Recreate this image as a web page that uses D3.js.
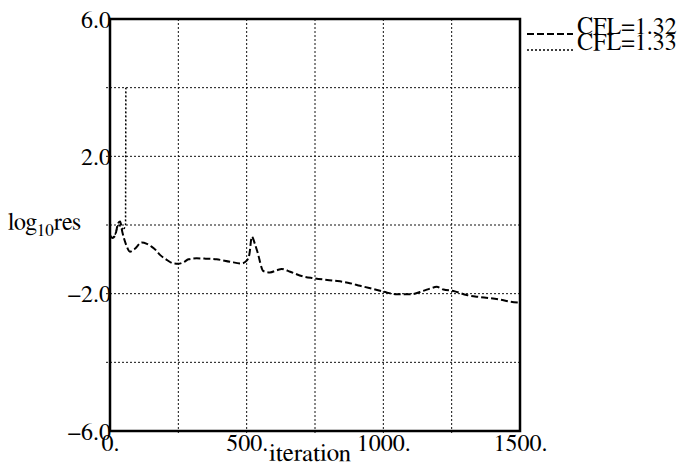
<html><head><meta charset="utf-8"><script src="https://cdn.jsdelivr.net/npm/d3@7"></script></head>
<body style="margin:0">
<svg id="s" width="686" height="466" style="font-family: 'FreeSerif'"></svg>
<script>
// Residual history, CFL = 1.32 (converging run): [iteration, log10 res]
const cfl132 = [
  [0, -0.30], [8, -0.38], [18, -0.32], [30, 0.05], [37, 0.10], [45, -0.20],
  [60, -0.60], [73, -0.78], [90, -0.70], [116, -0.51], [135, -0.55],
  [152, -0.63], [170, -0.75], [183, -0.87], [205, -1.00], [232, -1.12],
  [250, -1.13], [270, -1.08], [287, -1.00], [317, -0.97], [350, -0.98],
  [390, -1.00], [439, -1.07], [482, -1.12], [500, -1.04], [510, -0.85],
  [519, -0.34], [530, -0.55], [540, -0.80], [561, -1.34], [585, -1.38],
  [610, -1.32], [628, -1.28], [659, -1.36], [707, -1.50], [744, -1.55],
  [817, -1.62], [870, -1.68], [915, -1.77], [960, -1.86], [1000, -1.94],
  [1049, -2.02], [1098, -2.02], [1146, -1.92], [1175, -1.84], [1195, -1.80],
  [1220, -1.88], [1256, -1.92], [1305, -2.04], [1354, -2.10], [1427, -2.17],
  [1463, -2.23], [1500, -2.26]
];

// Residual history, CFL = 1.33 (blows up early)
const cfl133 = [
  [0, -0.30], [8, -0.38], [18, -0.30], [30, 0.02], [40, -0.05], [50, -0.15],
  [57, 0.00], [58, 4.0]
];

const xTickValues = [0, 500, 1000, 1500];
const xTickLabels = ["0.", "500.", "1000.", "1500."];
const xGridValues = [250, 500, 750, 1000, 1250];
const yTickValues = [6, 2, -2, -6];
const yTickLabels = ["6.0", "2.0", "\u22122.0", "\u22126.0"];
const yGridValues = [4, 2, 0, -2, -4];
const seriesNames = ["CFL=1.32", "CFL=1.33"];

const FONT = '"FreeSerif"';
const svg = d3.select("#s");
const margin = { left: 110, top: 19, right: 166, bottom: 35 };
const W = 686, H = 466;
const x = d3.scaleLinear().domain([0, 1500]).range([margin.left, W - margin.right]);
const y = d3.scaleLinear().domain([-6, 6]).range([H - margin.bottom, margin.top]);

// serif face on every text node
function serif(sel) {
  return sel.attr("font-family", "FreeSerif").style("font-family", FONT);
}

// grid
const grid = svg.append("g").attr("stroke", "#111").attr("stroke-width", 1)
  .attr("stroke-dasharray", "2,2");
grid.selectAll("line.vx").data(xGridValues).join("line")
  .attr("x1", d => x(d)).attr("x2", d => x(d))
  .attr("y1", y(6)).attr("y2", y(-6) + 4);
grid.selectAll("line.hy").data(yGridValues).join("line")
  .attr("x1", x(0) - 4).attr("x2", x(1500))
  .attr("y1", d => y(d)).attr("y2", d => y(d));

// series
const line = d3.line().x(d => x(d[0])).y(d => y(d[1])).curve(d3.curveMonotoneX);
svg.append("path").datum(cfl133)
  .attr("fill", "none").attr("stroke", "#000").attr("stroke-width", 1.5)
  .attr("stroke-dasharray", "2,2")
  .attr("d", d3.line().x(d => x(d[0])).y(d => y(d[1])));
svg.append("path").datum(cfl132)
  .attr("fill", "none").attr("stroke", "#000").attr("stroke-width", 2)
  .attr("stroke-dasharray", "7,3")
  .attr("d", line);

// frame
svg.append("rect")
  .attr("x", x(0)).attr("y", y(6))
  .attr("width", x(1500) - x(0)).attr("height", y(-6) - y(6))
  .attr("fill", "none").attr("stroke", "#000").attr("stroke-width", 2.5);

// axis tick labels
const xAxis = d3.axisBottom(x).tickValues(xTickValues)
  .tickFormat((d, i) => xTickLabels[i]).tickSize(0).tickPadding(0);
const gx = svg.append("g").attr("transform", `translate(0,${y(-6)})`).call(xAxis);
gx.select(".domain").remove();
serif(gx);
serif(gx.selectAll("text")).attr("font-size", 24).attr("fill", "#000")
  .attr("dy", null).attr("y", 20);

const yAxis = d3.axisLeft(y).tickValues(yTickValues)
  .tickFormat((d, i) => yTickLabels[i]).tickSize(0).tickPadding(0);
const gy = svg.append("g").attr("transform", `translate(${x(0) + 1},0)`).call(yAxis);
gy.select(".domain").remove();
serif(gy);
serif(gy.selectAll("text")).attr("font-size", 24).attr("fill", "#000")
  .attr("dy", "0.34em").attr("x", 0);

// axis titles
const yl = serif(svg.append("text")).attr("x", 8).attr("y", 230).attr("font-size", 24);
yl.append("tspan").text("log");
yl.append("tspan").attr("font-size", 17).attr("dy", 6).text("10");
yl.append("tspan").attr("dy", -6).text("res");

serif(svg.append("text")).attr("x", 310).attr("y", 461).attr("text-anchor", "middle")
  .attr("font-size", 25).text("iteration");

// legend
const legendRows = [
  { name: seriesNames[0], dash: "7,3", width: 2, y: 34 },
  { name: seriesNames[1], dash: "2,2", width: 1.5, y: 50 }
];
const legend = svg.append("g");
legend.selectAll("line").data(legendRows).join("line")
  .attr("x1", 527).attr("x2", 573)
  .attr("y1", d => d.y).attr("y2", d => d.y)
  .attr("stroke", "#000").attr("stroke-width", d => d.width)
  .attr("stroke-dasharray", d => d.dash);
serif(legend.selectAll("text").data(legendRows).join("text"))
  .attr("x", 577).attr("y", d => d.y).attr("font-size", 24)
  .text(d => d.name);
</script></body></html>
